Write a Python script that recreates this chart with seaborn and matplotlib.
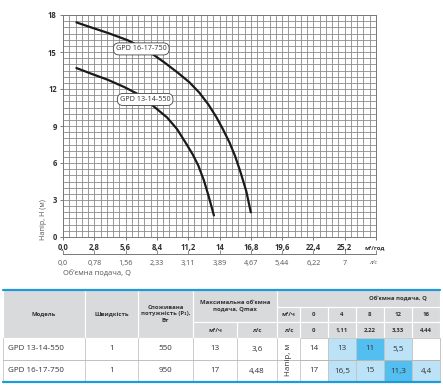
import numpy as np
import pandas as pd
import seaborn as sns
import matplotlib.pyplot as plt
from matplotlib.ticker import MultipleLocator
from matplotlib.patches import Rectangle

# Données des courbes
q_550 = [1.2, 2.5, 4.0, 5.5, 7.0, 8.3, 9.3, 10.2, 11.0, 11.6, 12.1, 12.6, 13.0, 13.5]
h_550 = [13.7, 13.25, 12.75, 12.15, 11.45, 10.45, 9.7, 8.75, 7.6, 6.7, 5.8, 4.6, 3.4, 1.75]
q_750 = [1.2, 2.5, 4.0, 5.8, 7.5, 9.0, 10.3, 11.3, 12.2, 13.0, 13.7, 14.3, 14.9, 15.4, 15.9, 16.4, 16.8]
h_750 = [17.4, 17.0, 16.55, 15.95, 15.15, 14.2, 13.3, 12.55, 11.7, 10.75, 9.75, 8.75, 7.65, 6.55, 5.2, 3.7, 2.0]

x_ticks = [0, 2.8, 5.6, 8.4, 11.2, 14, 16.8, 19.6, 22.4, 25.2]
x_labels_m3h = ['0,0', '2,8', '5,6', '8,4', '11,2', '14', '16,8', '19,6', '22,4', '25,2']
x_labels_ls = ['0,0', '0,78', '1,56', '2,33', '3,11', '3,89', '4,67', '5,44', '6,22', '7']
y_ticks = [0, 3, 6, 9, 12, 15, 18]

# Données du tableau
models = ['GPD 13-14-550', 'GPD 16-17-750']
speeds = ['1', '1']
power = ['550', '950']
qmax_m3h = ['13', '17']
qmax_ls = ['3,6', '4,48']
q_m3h = ['0', '4', '8', '12', '16']
q_ls = ['0', '1,11', '2,22', '3,33', '4,44']
head_rows = [['14', '13', '11', '5,5', ''],
             ['17', '16,5', '15', '11,3', '4,4']]
best_col = [2, 3]

df = pd.concat([
    pd.DataFrame({'Q': q_550, 'H': h_550, 'pompe': 'GPD 13-14-550'}),
    pd.DataFrame({'Q': q_750, 'H': h_750, 'pompe': 'GPD 16-17-750'}),
])

sns.set_style('white')
plt.rcParams['font.family'] = ['Open Sans', 'DejaVu Sans']

W, H = 443, 390
fig = plt.figure(figsize=(W / 100, H / 100), dpi=100)

# axe "pixels" pour le tableau et les textes libres
tax = fig.add_axes([0, 0, 1, 1])
tax.set_xlim(0, W)
tax.set_ylim(H, 0)
tax.axis('off')

L, R, T, B = 63, 376, 15, 237
ax = fig.add_axes([L / W, 1 - B / H, (R - L) / W, (B - T) / H])
sns.lineplot(data=df, x='Q', y='H', units='pompe', estimator=None, color='#1a1a1a',
             linewidth=1.6, sort=False, ax=ax, zorder=3)
ax.set_xlim(0, 28)
ax.set_ylim(0, 18)
ax.set_xticks(x_ticks + [28])
ax.set_xticklabels(x_labels_m3h + [''], fontsize=5.5, fontweight='bold', color='#333333')
ax.set_yticks(y_ticks)
ax.set_yticklabels([str(v) for v in y_ticks], fontsize=5.5, fontweight='bold', color='#333333')
ax.xaxis.set_minor_locator(MultipleLocator(0.56))
ax.yaxis.set_minor_locator(MultipleLocator(0.5))
ax.grid(which='both', color='#8a8a8a', linewidth=0.6)
ax.tick_params(axis='both', which='major', length=2.5, width=0.6, color='#666666', pad=2,
               bottom=True, left=True)
ax.tick_params(which='minor', length=0)
for s in ax.spines.values():
    s.set_color('#777777')
    s.set_linewidth(0.7)
ax.set_xlabel('')
ax.set_ylabel('')

# étiquettes des courbes
for txt, cx, cy in [('GPD 16-17-750', 7.0, 15.25), ('GPD 13-14-550', 7.35, 11.15)]:
    ax.text(cx, cy, txt, ha='center', va='center', fontsize=5.2, color='#333333', zorder=5,
            bbox=dict(boxstyle='round,pad=0.35,rounding_size=0.8', fc='white', ec='#444444', lw=0.6))

# second axe en l/s
ax2 = fig.add_axes([L / W, 1 - 254 / H, (R - L) / W, 0.0001])
ax2.set_xlim(0, 28)
ax2.set_yticks([])
ax2.set_xticks(x_ticks + [28])
ax2.set_xticklabels(x_labels_ls + [''], fontsize=5.2, color='#555555')
ax2.tick_params(axis='x', direction='in', length=3, width=0.6, color='#777777', pad=4, bottom=True)
for k in ['top', 'left', 'right']:
    ax2.spines[k].set_visible(False)
ax2.spines['bottom'].set_color('#777777')
ax2.spines['bottom'].set_linewidth(0.7)
ax2.patch.set_visible(False)

tax.text(44, 220, 'Напір, H (м)', rotation=90, ha='center', va='center', fontsize=5.2, color='#555555')
tax.text(375, 248, 'м³/год', ha='center', va='center', fontsize=4.3, fontweight='bold', color='#333333')
tax.text(373, 263, 'л/с', ha='center', va='center', fontsize=4.3, style='italic', color='#555555')
tax.text(63, 274, 'Об’ємна подача, Q', ha='left', va='center', fontsize=5.4, color='#555555')

# ---- tableau ----
head_bg = '#d9dadb'
hdr_txt = dict(fontsize=4.3, fontweight='bold', color='#333333', ha='center', va='center',
               linespacing=1.3)
cell_txt = dict(fontsize=5.8, color='#333333', ha='center', va='center')
y0, y1, y2, y3, y4, y5 = 290, 306.5, 322, 338, 360, 382
cols = [3, 85, 138, 193, 237, 277, 300, 328, 356, 384, 412, 440]

tax.add_patch(Rectangle((cols[0], y0), cols[-1] - cols[0], y3 - y0, fc=head_bg, ec='none'))


def hcell(x0, x1, ya, yb, text=''):
    tax.add_patch(Rectangle((x0, ya), x1 - x0, yb - ya, fc='none', ec='white', lw=0.8))
    if text:
        tax.text((x0 + x1) / 2, (ya + yb) / 2, text, **hdr_txt)


hcell(cols[0], cols[1], y0, y3, 'Модель')
hcell(cols[1], cols[2], y0, y3, 'Швидкість')
hcell(cols[2], cols[3], y0, y3, 'Споживана\nпотужність (P₁),\nВт')
hcell(cols[3], cols[5], y0, y2, 'Максимальна об’ємна\nподача, Qmax')
hcell(cols[3], cols[4], y2, y3, 'м³/ч')
hcell(cols[4], cols[5], y2, y3, 'л/с')
hcell(cols[5], cols[-1], y0, y1)
tax.text(398, (y0 + y1) / 2, 'Об’ємна подача, Q', **hdr_txt)
hcell(cols[5], cols[6], y1, y2, 'м³/ч')
hcell(cols[5], cols[6], y2, y3, 'л/с')
for i in range(5):
    hcell(cols[6 + i], cols[7 + i], y1, y2, q_m3h[i])
    hcell(cols[6 + i], cols[7 + i], y2, y3, q_ls[i])

rows_y = [(y3, y4), (y4, y5)]
for r, (ya, yb) in enumerate(rows_y):
    ym = (ya + yb) / 2
    tax.text(cols[0] + 5, ym, models[r], fontsize=5.8, color='#333333', ha='left', va='center')
    tax.text((cols[1] + cols[2]) / 2, ym, speeds[r], **cell_txt)
    tax.text((cols[2] + cols[3]) / 2, ym, power[r], **cell_txt)
    tax.text((cols[3] + cols[4]) / 2, ym, qmax_m3h[r], **cell_txt)
    tax.text((cols[4] + cols[5]) / 2, ym, qmax_ls[r], **cell_txt)
    for i, v in enumerate(head_rows[r]):
        x0, x1 = cols[6 + i], cols[7 + i]
        if i == 0 or v == '':
            fc = 'white'
        elif i == best_col[r]:
            fc = '#52bff0'
        else:
            fc = '#bce2f7'
        tax.add_patch(Rectangle((x0, ya), x1 - x0, yb - ya, fc=fc, ec='#c4c4c4', lw=0.6))
        tax.text((x0 + x1) / 2, ym, v, **cell_txt)
    for i in range(6):
        tax.plot([cols[i], cols[i]], [ya, yb], color='#c4c4c4', lw=0.6)
tax.plot([cols[0], cols[-1]], [y4, y4], color='#b5b5b5', lw=0.6)
tax.plot([cols[-1], cols[-1]], [y3, y5], color='#c4c4c4', lw=0.6)
tax.text((cols[5] + cols[6]) / 2, (y3 + y5) / 2, 'Напір, м', rotation=90, **cell_txt)

tax.plot([cols[0], cols[-1]], [y0, y0], color='#1e9ad6', lw=1.6)
tax.plot([cols[0], cols[-1]], [y5, y5], color='#1e9ad6', lw=1.6)

fig.savefig('out.png', dpi=100)
